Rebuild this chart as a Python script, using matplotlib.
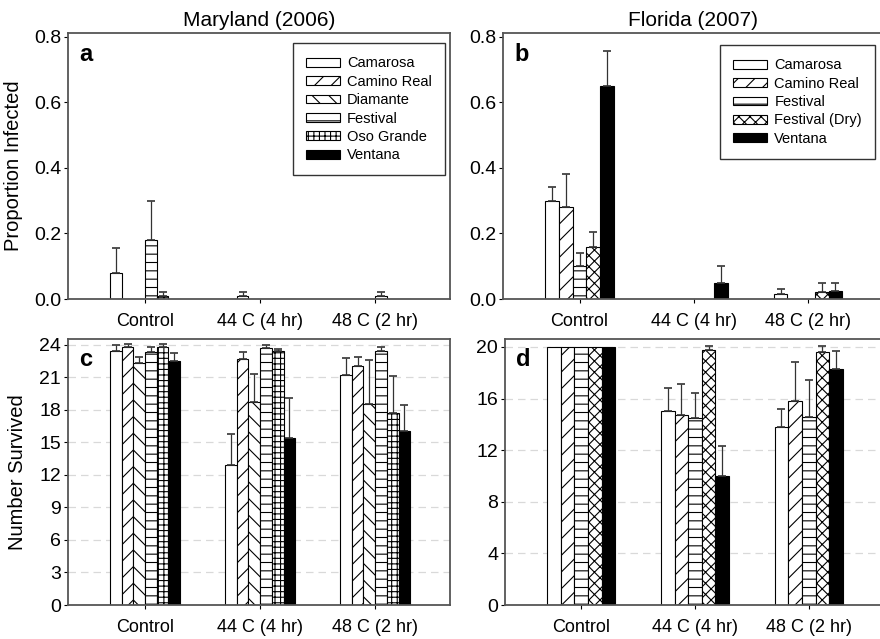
import numpy as np
import matplotlib
matplotlib.use('Agg')
import matplotlib.pyplot as plt

# Data

treatments = ['Control', '44 C (4 hr)', '48 C (2 hr)']

md_cultivars = ['Camarosa', 'Camino Real', 'Diamante', 'Festival', 'Oso Grande', 'Ventana']
fl_cultivars = ['Camarosa', 'Camino Real', 'Festival', 'Festival (Dry)', 'Ventana']

# Maryland (2006) proportion infected, one row per cultivar (Control, 44 C, 48 C)
md_infected = [[0.08, 0.0, 0.0],
               [0.0, 0.01, 0.0],
               [0.0, 0.0, 0.0],
               [0.18, 0.0, 0.01],
               [0.01, 0.0, 0.0],
               [0.0, 0.0, 0.0]]
md_infected_err = [[0.075, 0.0, 0.0],
                   [0.0, 0.01, 0.0],
                   [0.0, 0.0, 0.0],
                   [0.12, 0.0, 0.01],
                   [0.01, 0.0, 0.0],
                   [0.0, 0.0, 0.0]]

# Florida (2007) proportion infected
fl_infected = [[0.30, 0.0, 0.015],
               [0.28, 0.0, 0.0],
               [0.10, 0.0, 0.0],
               [0.16, 0.0, 0.02],
               [0.65, 0.05, 0.025]]
fl_infected_err = [[0.04, 0.0, 0.015],
                   [0.10, 0.0, 0.0],
                   [0.04, 0.0, 0.0],
                   [0.045, 0.0, 0.03],
                   [0.105, 0.05, 0.025]]

# Maryland (2006) number survived
md_survived = [[23.4, 12.9, 21.2],
               [23.8, 22.7, 22.0],
               [22.3, 18.7, 18.5],
               [23.3, 23.7, 23.4],
               [23.8, 23.4, 17.7],
               [22.5, 15.4, 16.0]]
md_survived_err = [[0.6, 2.9, 1.6],
                   [0.3, 0.6, 0.9],
                   [0.6, 2.6, 4.1],
                   [0.5, 0.3, 0.4],
                   [0.3, 0.2, 3.4],
                   [0.7, 3.7, 2.4]]

# Florida (2007) number survived
fl_survived = [[20.0, 15.0, 13.8],
               [20.0, 14.7, 15.8],
               [20.0, 14.5, 14.6],
               [20.0, 19.8, 19.6],
               [20.0, 10.0, 18.3]]
fl_survived_err = [[0.0, 1.8, 1.4],
                   [0.0, 2.4, 3.0],
                   [0.0, 1.9, 2.8],
                   [0.0, 0.3, 0.5],
                   [0.0, 2.3, 1.4]]

md_hatch = ['', '//', '\\\\', '--', '+++', '']
md_face = ['white', 'white', 'white', 'white', 'white', 'black']
fl_hatch = ['', '//', '--', 'xxx', '']
fl_face = ['white', 'white', 'white', 'white', 'black']

plt.rcParams['hatch.linewidth'] = 0.8
plt.rcParams['font.family'] = 'Liberation Sans'

fig = plt.figure(figsize=(8.8, 6.39), dpi=100)

ax_a = fig.add_axes([0.0773, 0.532, 0.434, 0.416])
ax_b = fig.add_axes([0.5716, 0.532, 0.431, 0.416])
ax_c = fig.add_axes([0.0773, 0.0532, 0.434, 0.416])
ax_d = fig.add_axes([0.574, 0.0532, 0.429, 0.416])


def draw_bars(ax, names, vals, errs, hatches, faces, group_width):
    x = np.arange(len(treatments))
    n = len(names)
    w = group_width / n
    for i in range(n):
        xi = x + (i - (n - 1) / 2.0) * w
        ax.bar(xi, vals[i], w, color=faces[i], hatch=hatches[i],
               edgecolor='black', linewidth=0.8, label=names[i], zorder=2)
        e = np.array(errs[i])
        v = np.array(vals[i])
        keep = e > 0
        if keep.any():
            ax.errorbar(xi[keep], v[keep], yerr=[np.zeros(keep.sum()), e[keep]],
                        fmt='none', ecolor='#333333', elinewidth=0.9,
                        capsize=3, capthick=1.2, zorder=3)


def style_axes(ax, ylim, yticks, yfmt, grid):
    ax.set_xlim(-0.67, 2.65)
    ax.set_ylim(ylim)
    ax.set_yticks(yticks)
    ax.set_yticklabels([yfmt.format(t) for t in yticks])
    ax.set_xticks(np.arange(len(treatments)))
    ax.set_xticklabels(treatments)
    ax.tick_params(axis='x', direction='out', length=3, pad=7, labelsize=13)
    ax.tick_params(axis='y', direction='out', length=3, pad=2, labelsize=14)
    for s in ax.spines.values():
        s.set_color('#555555')
        s.set_linewidth(1.3)
    if grid:
        ax.yaxis.grid(True, linestyle=(0, (6, 4)), color='#d9d9d9', linewidth=0.9)
        ax.set_axisbelow(True)


draw_bars(ax_a, md_cultivars, md_infected, md_infected_err, md_hatch, md_face, 0.61)
draw_bars(ax_b, fl_cultivars, fl_infected, fl_infected_err, fl_hatch, fl_face, 0.6)
draw_bars(ax_c, md_cultivars, md_survived, md_survived_err, md_hatch, md_face, 0.61)
draw_bars(ax_d, fl_cultivars, fl_survived, fl_survived_err, fl_hatch, fl_face, 0.6)

style_axes(ax_a, (0, 0.81), [0.0, 0.2, 0.4, 0.6, 0.8], '{:.1f}', False)
style_axes(ax_b, (0, 0.81), [0.0, 0.2, 0.4, 0.6, 0.8], '{:.1f}', False)
style_axes(ax_c, (0, 24.5), [0, 3, 6, 9, 12, 15, 18, 21, 24], '{:d}', True)
style_axes(ax_d, (0, 20.6), [0, 4, 8, 12, 16, 20], '{:d}', True)

# panel letters
for ax, letter in zip([ax_a, ax_b, ax_c, ax_d], ['a', 'b', 'c', 'd']):
    ax.text(0.03, 0.965, letter, transform=ax.transAxes, fontsize=17,
            fontweight='bold', va='top', ha='left')

ax_a.set_ylabel('Proportion Infected', fontsize=14.5)
ax_a.yaxis.set_label_coords(-0.118, 0.5)
ax_c.set_ylabel('Number Survived', fontsize=14.5)
ax_c.yaxis.set_label_coords(-0.107, 0.5)

ax_a.set_title('Maryland (2006)', fontsize=15, pad=5)
ax_b.set_title('Florida (2007)', fontsize=15, pad=5)

leg_a = ax_a.legend(loc='upper right', bbox_to_anchor=(0.987, 0.962), fontsize=10.5,
                    handlelength=2.3, handleheight=0.55, labelspacing=0.3,
                    fancybox=False, framealpha=1, edgecolor='#333333',
                    borderpad=0.9, handletextpad=0.5, borderaxespad=0)
leg_a.get_frame().set_linewidth(1.0)
leg_b = ax_b.legend(loc='upper right', bbox_to_anchor=(0.981, 0.955), fontsize=10.5,
                    handlelength=2.3, handleheight=0.55, labelspacing=0.3,
                    fancybox=False, framealpha=1, edgecolor='#333333',
                    borderpad=0.9, handletextpad=0.5, borderaxespad=0)
leg_b.get_frame().set_linewidth(1.0)

plt.savefig('out.png', dpi=100)
